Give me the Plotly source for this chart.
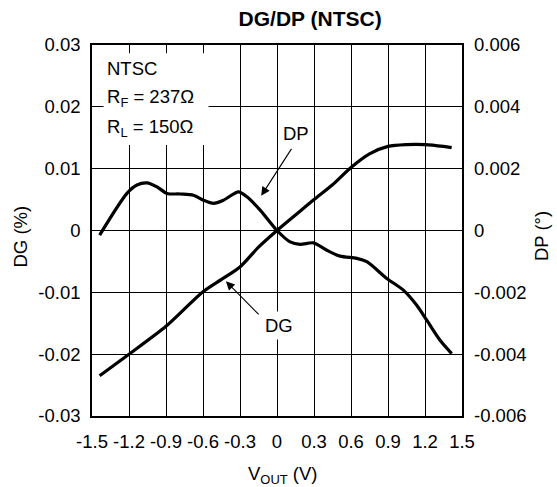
import plotly.graph_objects as go

# ---- data ----
dg_x = [-1.438, -1.2, -0.9, -0.6, -0.45, -0.3, -0.15, 0.0, 0.15, 0.3, 0.45, 0.6, 0.75, 0.9, 1.05, 1.2, 1.35, 1.416]
dg_y = [-0.0235, -0.0200, -0.0155, -0.0099, -0.0079, -0.0059, -0.0027, 0.0, 0.0025, 0.0050, 0.0074, 0.0102, 0.0124, 0.0136, 0.0139, 0.0139, 0.0136, 0.0134]

dp_x = [-1.438, -1.2165, -1.1355, -1.054, -0.973, -0.892, -0.785, -0.677, -0.596, -0.515, -0.434, -0.312, -0.244,
        -0.1365, 0.0, 0.1065, 0.1876, 0.2953, 0.404, 0.5116, 0.647, 0.728, 0.89, 1.0245, 1.133, 1.214, 1.322, 1.4166]
dp_y = [-0.00015, 0.0012, 0.00147, 0.00154, 0.00141, 0.0012, 0.00118, 0.00114, 0.00098, 0.00088, 0.00098, 0.00125, 0.00109,
        0.00066, 0.0, -0.00037, -0.00045, -0.0004, -0.00064, -0.00083, -0.0009, -0.00101, -0.00155, -0.00193, -0.00242, -0.0029, -0.00355, -0.00398]

x_ticks = [-1.5, -1.2, -0.9, -0.6, -0.3, 0, 0.3, 0.6, 0.9, 1.2, 1.5]
x_ticktext = ["-1.5", "-1.2", "-0.9", "-0.6", "-0.3", "0", "0.3", "0.6", "0.9", "1.2", "1.5"]
yl_ticks = [-0.03, -0.02, -0.01, 0, 0.01, 0.02, 0.03]
yl_ticktext = ["-0.03", "-0.02", "-0.01", "0", "0.01", "0.02", "0.03"]
yr_ticks = [-0.006, -0.004, -0.002, 0, 0.002, 0.004, 0.006]
yr_ticktext = ["-0.006", "-0.004", "-0.002", "0", "0.002", "0.004", "0.006"]

FONT = "Liberation Sans, Arial, sans-serif"
FS = 18.5

fig = go.Figure()
fig.add_trace(go.Scatter(x=dg_x, y=dg_y, mode="lines", line=dict(color="black", width=3.2, shape="spline", smoothing=0.8),
                         yaxis="y", showlegend=False, hoverinfo="skip"))
fig.add_trace(go.Scatter(x=dp_x, y=dp_y, mode="lines", line=dict(color="black", width=3.2, shape="spline", smoothing=0.8),
                         yaxis="y2", showlegend=False, hoverinfo="skip"))

annotations = []
# info box text
for yv, txt in [(0.02624, "NTSC"), (0.02137, "R<sub>F</sub> = 237Ω"), (0.01652, "R<sub>L</sub> = 150Ω")]:
    annotations.append(dict(x=-1.392, y=yv, xref="x", yref="y", text=txt, showarrow=False,
                            xanchor="left", yanchor="middle", font=dict(family=FONT, size=FS, color="black")))
# labels
annotations.append(dict(x=0.1576, y=0.01571, xref="x", yref="y", text="DP", showarrow=False, bgcolor="white",
                        borderpad=3, font=dict(family=FONT, size=FS, color="black")))
annotations.append(dict(x=0.019, y=-0.01532, xref="x", yref="y", text="DG", showarrow=False, bgcolor="white",
                        borderpad=3, font=dict(family=FONT, size=FS, color="black")))
# arrows
annotations.append(dict(x=-0.128, y=0.00561, ax=0.125, ay=0.01344, xref="x", yref="y", axref="x", ayref="y",
                        text="", showarrow=True, arrowhead=2, arrowsize=1.6, arrowwidth=1.1, arrowcolor="black"))
annotations.append(dict(x=-0.4144, y=-0.0082, ax=-0.1365, ay=-0.01382, xref="x", yref="y", axref="x", ayref="y",
                        text="", showarrow=True, arrowhead=2, arrowsize=1.6, arrowwidth=1.1, arrowcolor="black"))
# axis titles
annotations.append(dict(x=-0.1936, y=0.4848, xref="paper", yref="paper", text="DG (%)", textangle=-90, showarrow=False,
                        xanchor="center", yanchor="middle", font=dict(family=FONT, size=FS, color="black")))
annotations.append(dict(x=1.2134, y=0.4848, xref="paper", yref="paper", text="DP (°)", textangle=-90, showarrow=False,
                        xanchor="center", yanchor="middle", font=dict(family=FONT, size=FS, color="black")))
annotations.append(dict(x=0.5153, y=-0.158, xref="paper", yref="paper", text="V<sub>OUT</sub> (V)", showarrow=False,
                        xanchor="center", yanchor="middle", font=dict(family=FONT, size=FS, color="black")))

fig.update_layout(
    width=557, height=487,
    margin=dict(l=91.7, r=95, t=45, b=71.3, pad=0),
    paper_bgcolor="white", plot_bgcolor="white",
    title=dict(text="<b>DG/DP (NTSC)</b>", x=0.5895, xref="paper", xanchor="center",
               y=1 - 19 / 487, yref="container", yanchor="middle",
               font=dict(family=FONT, size=21, color="black")),
    font=dict(family=FONT, size=FS, color="black"),
    xaxis=dict(range=[-1.5, 1.5], tickvals=x_ticks, ticktext=x_ticktext, showgrid=True, gridcolor="black", gridwidth=1,
               zeroline=False, showline=True, linecolor="black", linewidth=1.6, mirror=True, ticks="",
               ticklabelstandoff=8, tickfont=dict(family=FONT, size=FS, color="black")),
    yaxis=dict(range=[-0.03, 0.03], tickvals=yl_ticks, ticktext=yl_ticktext, showgrid=True, gridcolor="black", gridwidth=1,
               zeroline=False, showline=True, linecolor="black", linewidth=1.6, mirror=True, ticks="",
               ticklabelstandoff=6, tickfont=dict(family=FONT, size=FS, color="black")),
    yaxis2=dict(range=[-0.006, 0.006], tickvals=yr_ticks, ticktext=yr_ticktext, overlaying="y", side="right",
                showgrid=False, zeroline=False, showline=False, ticks="", ticklabelstandoff=11,
                tickfont=dict(family=FONT, size=FS, color="black")),
    annotations=annotations,
    shapes=[dict(type="rect", xref="x", yref="y", x0=-1.406, x1=-0.5554, y0=0.01382, y1=0.02866,
                 fillcolor="white", line=dict(width=0), layer="above")],
)

fig.write_html("out.html", config={"displayModeBar": False},
               post_script="document.body.style.margin='0';document.body.style.padding='0';document.body.style.overflow='hidden';")
